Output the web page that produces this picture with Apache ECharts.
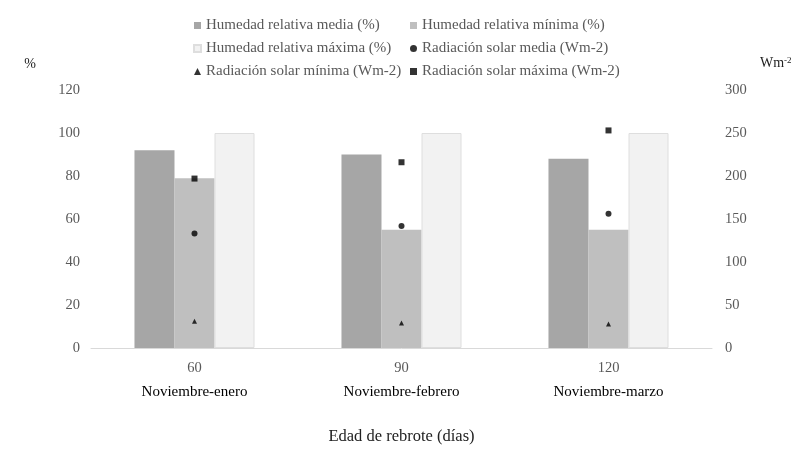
<!DOCTYPE html>
<html>
<head>
<meta charset="utf-8">
<script src="https://cdn.jsdelivr.net/npm/echarts@6/dist/echarts.min.js"></script>
<style>
  html, body { margin: 0; padding: 0; background: #fff; }
  #chart { width: 800px; height: 449px; }
</style>
</head>
<body>
<div id="chart"></div>
<script>
// datos
const dias = ['60', '90', '120'];
const periodos = ['Noviembre-enero', 'Noviembre-febrero', 'Noviembre-marzo'];
const hrMedia = [92, 90, 88];
const hrMinima = [79, 55, 55];
const hrMaxima = [100, 100, 100];
const radMedia = [133, 142, 156];
const radMinima = [31, 29, 28];
const radMaxima = [197, 216, 253];
const ticksHr = [0, 20, 40, 60, 80, 100, 120];
const ticksRad = [0, 50, 100, 150, 200, 250, 300];

const font = 'Liberation Serif';
const gris = '#595959';

let chart = echarts.init(document.getElementById('chart'));

let legendBase = {
  orient: 'vertical',
  top: 13,
  itemWidth: 7,
  itemHeight: 7,
  itemGap: 8,
  textStyle: { fontFamily: font, fontSize: 15, color: gris },
  selectedMode: false
};

let options = {
  animation: false,
  textStyle: { fontFamily: font },
  legend: [
    Object.assign({}, legendBase, {
      left: 188,
      data: [
        { name: 'Humedad relativa media (%)', icon: 'rect' },
        { name: 'Humedad relativa máxima (%)', icon: 'rect' },
        { name: 'Radiación solar mínima (Wm-2)', icon: 'triangle', itemWidth: 5, itemHeight: 5 }
      ]
    }),
    Object.assign({}, legendBase, {
      left: 405,
      data: [
        { name: 'Humedad relativa mínima (%)', icon: 'rect' },
        { name: 'Radiación solar media (Wm-2)', icon: 'circle', itemWidth: 5, itemHeight: 5 },
        { name: 'Radiación solar máxima (Wm-2)', icon: 'rect', itemWidth: 6, itemHeight: 6 }
      ]
    })
  ],
  grid: { left: 91, right: 88, top: 90, bottom: 101, outerBoundsMode: 'none' },
  xAxis: {
    type: 'category',
    data: dias,
    axisLine: { lineStyle: { color: '#d9d9d9' } },
    axisTick: { show: false },
    axisLabel: {
      margin: 7,
      formatter: (v, i) => '{a|' + v + '}\n{b|' + periodos[i] + '}',
      rich: {
        a: { fontFamily: font, fontSize: 14.5, color: gris, lineHeight: 26 },
        b: { fontFamily: font, fontSize: 15, color: '#000', lineHeight: 22 }
      }
    },
    name: 'Edad de rebrote (días)',
    nameLocation: 'middle',
    nameGap: 80,
    nameTextStyle: { fontFamily: font, fontSize: 16.5, color: '#222' }
  },
  yAxis: [
    {
      type: 'value',
      min: ticksHr[0],
      max: ticksHr[ticksHr.length - 1],
      interval: 20,
      splitLine: { show: false },
      axisLine: { show: false },
      axisLabel: { margin: 11, fontSize: 14.5, color: gris, fontFamily: font },
      name: '%',
      nameGap: 19,
      nameTextStyle: { align: 'right', padding: [0, 55, 0, 0], fontSize: 14, color: '#222', fontFamily: font }
    },
    {
      type: 'value',
      min: ticksRad[0],
      max: ticksRad[ticksRad.length - 1],
      interval: 50,
      splitLine: { show: false },
      axisLine: { show: false },
      axisLabel: { margin: 13, fontSize: 14.5, color: gris, fontFamily: font },
      name: '{u|Wm}{s|-2}',
      nameGap: 19,
      nameTextStyle: {
        align: 'left',
        padding: [0, 0, 0, 48],
        rich: {
          u: { fontSize: 14, color: '#222', fontFamily: font },
          s: { fontSize: 9, color: '#222', fontFamily: font, verticalAlign: 'top', padding: [0, 0, 6, 0] }
        }
      }
    }
  ],
  series: [
    {
      name: 'Humedad relativa media (%)',
      type: 'bar',
      data: hrMedia,
      barGap: '0%',
      barCategoryGap: '42%',
      itemStyle: { color: '#a6a6a6' }
    },
    {
      name: 'Humedad relativa mínima (%)',
      type: 'bar',
      data: hrMinima,
      itemStyle: { color: '#bfbfbf' }
    },
    {
      name: 'Humedad relativa máxima (%)',
      type: 'bar',
      data: hrMaxima,
      itemStyle: { color: '#f2f2f2', borderColor: '#dedede', borderWidth: 1 }
    },
    {
      name: 'Radiación solar media (Wm-2)',
      type: 'scatter',
      yAxisIndex: 1,
      data: radMedia,
      symbol: 'circle',
      symbolSize: 6,
      itemStyle: { color: '#000' }
    },
    {
      name: 'Radiación solar mínima (Wm-2)',
      type: 'scatter',
      yAxisIndex: 1,
      data: radMinima,
      symbol: 'triangle',
      symbolSize: 5,
      itemStyle: { color: '#000' }
    },
    {
      name: 'Radiación solar máxima (Wm-2)',
      type: 'scatter',
      yAxisIndex: 1,
      data: radMaxima,
      symbol: 'rect',
      symbolSize: 6,
      itemStyle: { color: '#000' }
    }
  ]
};

chart.setOption(options);
window.addEventListener('resize', () => chart && chart.resize());
</script>
</body>
</html>
